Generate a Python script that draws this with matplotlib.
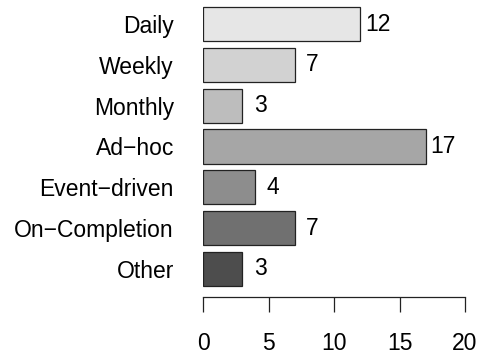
import numpy as np
import matplotlib
matplotlib.use("Agg")
import matplotlib.pyplot as plt

# data (top to bottom)
categories = ["Daily", "Weekly", "Monthly", "Ad\u2212hoc", "Event\u2212driven", "On\u2212Completion", "Other"]
counts = [12, 7, 3, 17, 4, 7, 3]
bar_colors = ["#E6E6E6", "#D2D2D2", "#BDBDBD", "#A6A6A6", "#8D8D8D", "#707070", "#4D4D4D"]
x_ticks = [0, 5, 10, 15, 20]

plt.rcParams["font.family"] = ["Liberation Sans", "DejaVu Sans"]
FS = 16.5

W, H = 478, 356
fig = plt.figure(figsize=(W / 100, H / 100), dpi=100)
# axes spans x: 0..20 -> px 203..465 ; y: px 0..297
ax = fig.add_axes([203 / W, 1 - 297 / H, 262 / W, 297 / H])

y = np.arange(len(categories))
ax.barh(y, counts, height=0.833, color=bar_colors, edgecolor="#222222", linewidth=0.9)
for yi, v in zip(y, counts):
    ax.text(v + 1.35, yi, str(v), ha="center", va="center", fontsize=FS)

ax.set_xlim(0, 20)
ax.set_ylim(6.686, -0.588)
ax.set_yticks(y)
ax.set_yticklabels(categories, fontsize=FS)
ax.tick_params(axis="y", length=0, pad=21)
ax.set_xticks(x_ticks)
ax.set_xticklabels([str(t) for t in x_ticks], fontsize=FS)
ax.tick_params(axis="x", length=11, width=0.9, pad=14, color="#222222")
for s in ["top", "right", "left"]:
    ax.spines[s].set_visible(False)
ax.spines["bottom"].set_linewidth(0.9)
ax.spines["bottom"].set_color("#222222")
ax.patch.set_alpha(0)

fig.savefig("out.png", dpi=100)
